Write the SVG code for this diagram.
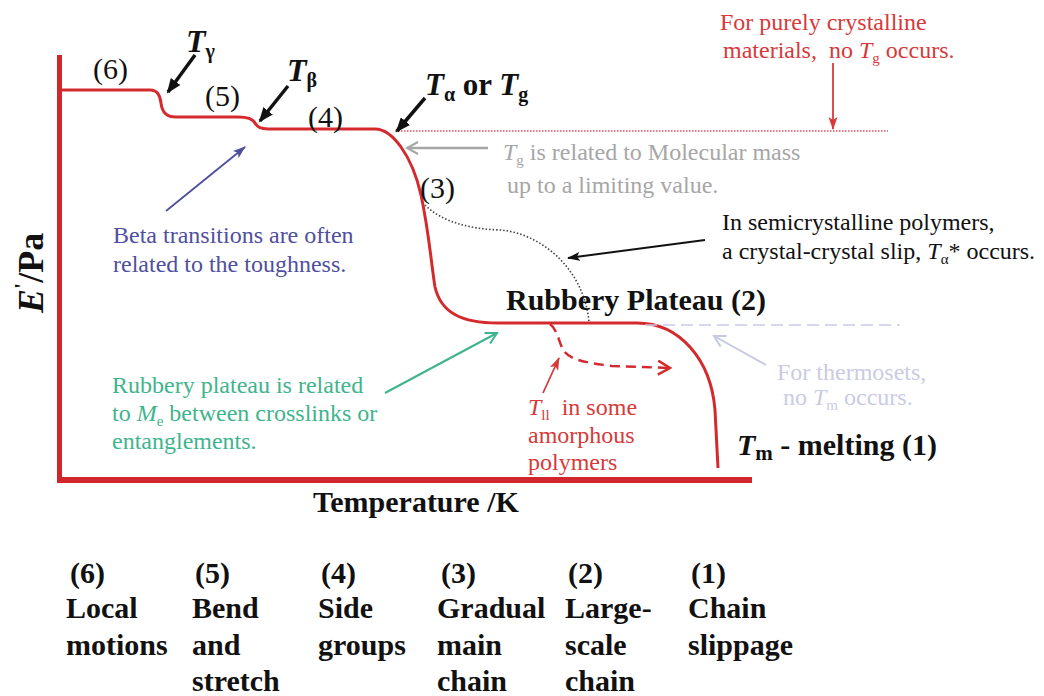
<svg xmlns="http://www.w3.org/2000/svg" width="1044" height="696" viewBox="0 0 1044 696" font-family="'Liberation Serif', 'Times New Roman', serif">
<style>
text{font-family:"Liberation Serif","Times New Roman",serif;}
.b{font-weight:bold;fill:#111;}
.it{font-style:italic;}
.up{font-style:normal;}
.ann{font-size:24px;}
.red{fill:#d63a3a;}
.gray{fill:#a6a6a6;}
.blue{fill:#4f4f9e;}
.green{fill:#3fb48c;}
.lav{fill:#cacbe4;}
.curve{fill:none;stroke:#d42a2e;stroke-width:3;}
.axis{fill:none;stroke:#d0262c;stroke-width:5;}
.blk{stroke:#111;stroke-width:3.5;fill:none;}
</style>
<defs>
<marker id="hb" markerUnits="userSpaceOnUse" markerWidth="16" markerHeight="12" refX="13" refY="6" orient="auto"><path d="M0,0 L15,6 L0,12 z" fill="#111"/></marker>
<marker id="hbt" markerUnits="userSpaceOnUse" markerWidth="14" markerHeight="10" refX="12" refY="5" orient="auto"><path d="M0,0.5 L13,5 L0,9.5 L3,5 z" fill="#111"/></marker>
<marker id="hred" markerUnits="userSpaceOnUse" markerWidth="14" markerHeight="10" refX="12" refY="5" orient="auto"><path d="M0,0.5 L13,5 L0,9.5 L3,5 z" fill="#d63a3a"/></marker>
<marker id="hblue" markerUnits="userSpaceOnUse" markerWidth="14" markerHeight="10" refX="12" refY="5" orient="auto"><path d="M0,0.5 L13,5 L0,9.5 L3,5 z" fill="#4f4f9e"/></marker>
<marker id="ogray" markerUnits="userSpaceOnUse" markerWidth="14" markerHeight="14" refX="12" refY="7" orient="auto"><path d="M1,1 L12,7 L1,13" fill="none" stroke="#a6a6a6" stroke-width="2"/></marker>
<marker id="ogreen" markerUnits="userSpaceOnUse" markerWidth="14" markerHeight="14" refX="12" refY="7" orient="auto"><path d="M1,1 L12,7 L1,13" fill="none" stroke="#3fb48c" stroke-width="2"/></marker>
<marker id="olav" markerUnits="userSpaceOnUse" markerWidth="14" markerHeight="14" refX="12" refY="7" orient="auto"><path d="M1,1 L12,7 L1,13" fill="none" stroke="#c8cae4" stroke-width="2"/></marker>
<marker id="ored" markerUnits="userSpaceOnUse" markerWidth="16" markerHeight="16" refX="13" refY="8" orient="auto"><path d="M1,1 L13,8 L1,15" fill="none" stroke="#d42a2e" stroke-width="2.5"/></marker>
</defs>

<g id="axes">
<line class="axis" x1="59.5" y1="55" x2="59.5" y2="483"/>
<line class="axis" x1="57" y1="480" x2="752" y2="480" style="stroke-width:6"/>
</g>

<g id="curve">
<path class="curve" d="M62,90 L150,90 C158,90 160,96 161,103 C162,112 166,117 176,117 L238,117 C249,117 253,119 255,123 C257,127 260,129 268,129 L375,129 C392,129 412,155 421,195 C429,232 431,262 435,287 C441,313 462,323 498,323 L637,323 C680,323 711,360 715,410 L718,468"/>
<path d="M425,205 C442,222 470,229 500,230 C540,233 584,268 589,322" fill="none" stroke="#444" stroke-width="1.6" stroke-dasharray="1.5,2"/>
<path d="M550,324 C558,330 559,344 564,351 C571,361 590,363 612,366 L670,368" fill="none" stroke="#d42a2e" stroke-width="2.5" stroke-dasharray="10,6" marker-end="url(#ored)"/>
<line x1="395" y1="131" x2="888" y2="131" stroke="#e0505a" stroke-width="1.5" stroke-dasharray="1.5,1.5"/>
<line x1="645" y1="325" x2="900" y2="325" stroke="#c8cce6" stroke-width="1.6" stroke-dasharray="12,6"/>
</g>

<g id="connectors">
<line class="blk" x1="195" y1="55" x2="168" y2="92" marker-end="url(#hb)"/>
<line class="blk" x1="288" y1="86" x2="260" y2="121" marker-end="url(#hb)"/>
<line class="blk" x1="425" y1="98" x2="397" y2="131" marker-end="url(#hb)"/>
<line x1="833" y1="63" x2="833" y2="129" stroke="#d63a3a" stroke-width="1.8" marker-end="url(#hred)"/>
<line x1="488" y1="148" x2="407" y2="148" stroke="#a6a6a6" stroke-width="2.5" marker-end="url(#ogray)"/>
<line x1="705" y1="240" x2="568" y2="258" stroke="#111" stroke-width="2" marker-end="url(#hbt)"/>
<line x1="166" y1="211" x2="245" y2="147" stroke="#4f4f9e" stroke-width="1.8" marker-end="url(#hblue)"/>
<line x1="385" y1="393" x2="497" y2="333" stroke="#3fb48c" stroke-width="2" marker-end="url(#ogreen)"/>
<line x1="543" y1="393" x2="559" y2="358" stroke="#d63a3a" stroke-width="1.8" marker-end="url(#hred)"/>
<line x1="766" y1="365" x2="714" y2="336" stroke="#c8cae4" stroke-width="2" marker-end="url(#olav)"/>
</g>

<g id="labels-curve">
<text x="93" y="79" font-size="30" fill="#111">(6)</text>
<text x="205" y="106" font-size="30" fill="#111">(5)</text>
<text x="308" y="127" font-size="30" fill="#111">(4)</text>
<text x="420" y="198" font-size="30" fill="#111">(3)</text>
<text class="b it" x="186" y="52" font-size="32">T<tspan class="up" font-size="20" dy="6">γ</tspan></text>
<text class="b it" x="287" y="81" font-size="32">T<tspan class="up" font-size="20" dy="6">β</tspan></text>
<text class="b" x="425" y="95" font-size="31"><tspan class="it">T</tspan><tspan font-size="20" dy="6">α</tspan><tspan dy="-6"> or </tspan><tspan class="it">T</tspan><tspan font-size="20" dy="6">g</tspan></text>
<text class="b" x="506" y="310" font-size="30">Rubbery Plateau (2)</text>
<text class="b" x="737" y="455" font-size="30"><tspan class="it">T</tspan><tspan font-size="21" dy="5">m</tspan><tspan dy="-5"> - melting (1)</tspan></text>
<text class="b" x="313" y="512" font-size="30">Temperature /K</text>
<text class="b" transform="translate(43,313) rotate(-90)" font-size="36"><tspan class="it">E</tspan><tspan font-size="22" dy="-14">'</tspan><tspan dy="14">/Pa</tspan></text>
</g>

<g id="annotations">
<text class="ann red" x="720" y="30">For purely crystalline</text>
<text class="ann red" x="723" y="58">materials,&#160; no <tspan class="it">T</tspan><tspan font-size="15" dy="5">g</tspan><tspan dy="-5"> occurs.</tspan></text>
<text class="ann gray" x="503" y="160"><tspan class="it">T</tspan><tspan font-size="15" dy="5">g</tspan><tspan dy="-5"> is related to Molecular mass</tspan></text>
<text class="ann gray" x="507" y="193">up to a limiting value.</text>
<text class="ann" x="722" y="230" fill="#111">In semicrystalline polymers,</text>
<text class="ann" x="722" y="259" fill="#111">a crystal-crystal slip, <tspan class="it">T</tspan><tspan font-size="15" dy="5">α</tspan><tspan dy="-5">* occurs.</tspan></text>
<text class="ann blue" x="113" y="243">Beta transitions are often</text>
<text class="ann blue" x="113" y="272">related to the toughness.</text>
<text class="ann green" x="112" y="393">Rubbery plateau is related</text>
<text class="ann green" x="112" y="421">to <tspan class="it">M</tspan><tspan font-size="15" dy="5">e</tspan><tspan dy="-5"> between crosslinks or</tspan></text>
<text class="ann green" x="112" y="449">entanglements.</text>
<text class="ann red" x="528" y="415"><tspan class="it">T</tspan><tspan font-size="15" dy="5">ll</tspan><tspan dy="-5">&#160; in some</tspan></text>
<text class="ann red" x="528" y="443">amorphous</text>
<text class="ann red" x="528" y="470">polymers</text>
<text class="ann lav" x="777" y="380">For thermosets,</text>
<text class="ann lav" x="783" y="405">no <tspan class="it">T</tspan><tspan font-size="15" dy="5">m</tspan><tspan dy="-5"> occurs.</tspan></text>
</g>

<g id="legend" font-size="30" fill="#111">
<g id="col6"><text class="b" x="70" y="583">(6)</text><text class="b" x="66" y="618">Local</text><text class="b" x="66" y="655">motions</text></g>
<g id="col5"><text class="b" x="195" y="583">(5)</text><text class="b" x="192" y="618">Bend</text><text class="b" x="192" y="655">and</text><text class="b" x="192" y="691">stretch</text></g>
<g id="col4"><text class="b" x="321" y="583">(4)</text><text class="b" x="318" y="618">Side</text><text class="b" x="318" y="655">groups</text></g>
<g id="col3"><text class="b" x="441" y="583">(3)</text><text class="b" x="437" y="618">Gradual</text><text class="b" x="437" y="655">main</text><text class="b" x="437" y="691">chain</text></g>
<g id="col2"><text class="b" x="568" y="583">(2)</text><text class="b" x="565" y="618">Large-</text><text class="b" x="565" y="655">scale</text><text class="b" x="565" y="691">chain</text></g>
<g id="col1"><text class="b" x="691" y="583">(1)</text><text class="b" x="688" y="618">Chain</text><text class="b" x="688" y="655">slippage</text></g>
</g>
</svg>
